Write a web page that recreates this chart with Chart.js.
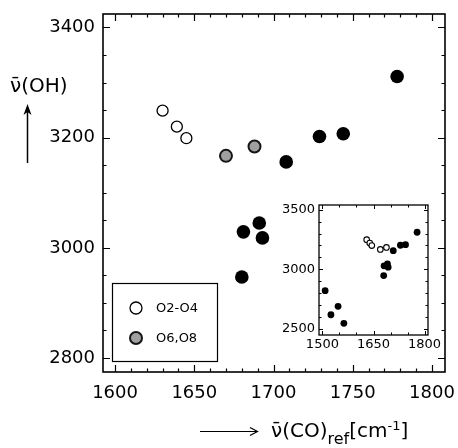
<!DOCTYPE html>
<html><head><meta charset="utf-8">
<script src="https://cdn.jsdelivr.net/npm/chart.js@4"></script>
<style>
html,body{margin:0;padding:0;background:#fff;}
#wrap{position:relative;width:458px;height:448px;overflow:hidden;font-family:"DejaVu Sans",sans-serif;background:#fff;}
#main{position:absolute;left:0;top:0;}
#inset{position:absolute;left:270px;top:195px;}
.lbl{position:absolute;color:#000;font-size:20px;white-space:nowrap;line-height:1;}
.lbl sub{font-size:16px;vertical-align:-7px;line-height:0;}
.lbl sup{font-size:13px;vertical-align:7px;line-height:0;}
</style></head><body>
<div id="wrap">
<canvas id="main" width="458" height="448"></canvas>
<canvas id="inset" width="174" height="160"></canvas>
<div class="lbl" id="ylab" style="left:10px;top:75px;">ν̄(OH)</div>
<div class="lbl" id="xlab" style="left:271px;top:420px;">ν̄(CO)<sub>ref</sub>[cm<sup>-1</sup>]</div>
</div>
<script>
// ---- data ----
const xTickLabels = [1600, 1650, 1700, 1750, 1800];
const yTickLabels = [2800, 3000, 3200, 3400];
const insetXTickLabels = [1500, 1650, 1800];
const insetYTickLabels = [2500, 3000, 3500];

const seriesNames = ['O2-O4', 'O6,O8'];
const openX = [1630, 1639, 1645];
const openY = [3249, 3220, 3199];
const grayX = [1670, 1688];
const grayY = [3167, 3184];
const filledX = [1680, 1681, 1691, 1693, 1708, 1729, 1744, 1778];
const filledY = [2947, 3029, 3045, 3018, 3156, 3202, 3207, 3311];
const insetExtraX = [1508, 1525, 1546, 1563];
const insetExtraY = [2820, 2618, 2689, 2546];

const pts = (xs, ys) => xs.map((x, i) => ({x: x, y: ys[i]}));

const frameTicks = {
  id: 'frameTicks',
  afterDatasetsDraw(chart, args, o) {
    const ctx = chart.ctx, a = chart.chartArea, x = chart.scales.x, y = chart.scales.y;
    ctx.save();
    ctx.strokeStyle = '#000';
    ctx.lineWidth = o.lw;
    ctx.strokeRect(a.left, a.top, a.right - a.left, a.bottom - a.top);
    ctx.lineWidth = o.tw;
    ctx.beginPath();
    for (let v = Math.ceil(x.min / o.xMinor) * o.xMinor; v <= x.max; v += o.xMinor) {
      const p = Math.round(x.getPixelForValue(v)) + 0.5;
      const len = (v % o.xMajor === 0) ? o.major : o.minor;
      ctx.moveTo(p, a.bottom); ctx.lineTo(p, a.bottom - len);
      ctx.moveTo(p, a.top); ctx.lineTo(p, a.top + len);
    }
    for (let v = Math.ceil(y.min / o.yMinor) * o.yMinor; v <= y.max; v += o.yMinor) {
      const p = Math.round(y.getPixelForValue(v)) + 0.5;
      const len = (v % o.yMajor === 0) ? o.major : o.minor;
      ctx.moveTo(a.left, p); ctx.lineTo(a.left + len, p);
      ctx.moveTo(a.right, p); ctx.lineTo(a.right - len, p);
    }
    ctx.stroke();
    ctx.restore();
  }
};

const decor = {
  id: 'decor',
  afterDraw(chart) {
    const ctx = chart.ctx;
    ctx.save();
    ctx.strokeStyle = '#000'; ctx.fillStyle = '#000'; ctx.lineWidth = 1.5;
    // up arrow
    ctx.beginPath(); ctx.moveTo(27.5, 163); ctx.lineTo(27.5, 110); ctx.stroke();
    ctx.beginPath(); ctx.moveTo(27.5, 104); ctx.lineTo(31.5, 115); ctx.lineTo(27.5, 112); ctx.lineTo(23.5, 115); ctx.closePath(); ctx.fill();
    // right arrow
    ctx.lineWidth = 1.2;
    ctx.beginPath(); ctx.moveTo(200, 431.5); ctx.lineTo(257, 431.5); ctx.stroke();
    ctx.beginPath(); ctx.moveTo(250, 427.5); ctx.lineTo(257.5, 431.5); ctx.lineTo(250, 435.5); ctx.stroke();
    // legend box
    ctx.lineWidth = 1.2;
    ctx.strokeRect(112.5, 283.5, 105, 78);
    const ds = chart.data.datasets;
    ctx.beginPath(); ctx.arc(136, 308, 6, 0, Math.PI * 2);
    ctx.fillStyle = ds[0].pointBackgroundColor; ctx.fill();
    ctx.lineWidth = ds[0].pointBorderWidth; ctx.strokeStyle = ds[0].pointBorderColor; ctx.stroke();
    ctx.beginPath(); ctx.arc(136, 338, 6, 0, Math.PI * 2);
    ctx.fillStyle = ds[1].pointBackgroundColor; ctx.fill();
    ctx.lineWidth = ds[1].pointBorderWidth; ctx.strokeStyle = ds[1].pointBorderColor; ctx.stroke();
    ctx.fillStyle = '#000';
    ctx.font = '13px "DejaVu Sans"';
    ctx.textBaseline = 'middle';
    ctx.fillText(ds[0].label, 156, 309);
    ctx.fillText(ds[1].label, 156, 339);
    ctx.restore();
  }
};

const fmt = v => String(v);

new Chart(document.getElementById('main'), {
  type: 'scatter',
  data: {datasets: [
    {label: seriesNames[0], data: pts(openX, openY), pointRadius: 5.5, pointBackgroundColor: '#fff', pointBorderColor: '#000', pointBorderWidth: 1.3},
    {label: seriesNames[1], data: pts(grayX, grayY), pointRadius: 6, pointBackgroundColor: '#a0a0a0', pointBorderColor: '#151515', pointBorderWidth: 2},
    {label: 'other', data: pts(filledX, filledY), pointRadius: 6.8, pointBackgroundColor: '#000', pointBorderColor: '#000', pointBorderWidth: 0}
  ]},
  options: {
    responsive: false, animation: false, devicePixelRatio: 1,
    layout: {padding: {left: 0, right: 13, top: 14, bottom: 0}},
    plugins: {
      legend: {display: false}, tooltip: {enabled: false},
      frameTicks: {lw: 1.6, tw: 1.2, major: 7, minor: 3.5, xMinor: 10, xMajor: 50, yMinor: 50, yMajor: 200}
    },
    scales: {
      x: {type: 'linear', min: 1592.4, max: 1808.2,
        grid: {display: false, drawTicks: false}, border: {display: false},
        ticks: {padding: 11, color: '#000', font: {family: 'DejaVu Sans', size: 18}, maxRotation: 0, autoSkip: false, callback: fmt},
        afterBuildTicks: s => { s.ticks = xTickLabels.map(v => ({value: v})); },
        afterFit: s => { s.height = 76; s.paddingLeft = 0; s.paddingRight = 0; }},
      y: {type: 'linear', min: 2774.6, max: 3424.5,
        grid: {display: false, drawTicks: false}, border: {display: false},
        ticks: {padding: 8, color: '#000', font: {family: 'DejaVu Sans', size: 18}, autoSkip: false, callback: fmt},
        afterBuildTicks: s => { s.ticks = yTickLabels.map(v => ({value: v})); },
        afterFit: s => { s.width = 103; s.paddingTop = 0; s.paddingBottom = 0; }}
    }
  },
  plugins: [frameTicks, decor]
});

new Chart(document.getElementById('inset'), {
  type: 'scatter',
  data: {datasets: [
    {label: 'open', data: pts(openX.concat(grayX), openY.concat(grayY)), pointRadius: 2.8, pointBackgroundColor: '#fff', pointBorderColor: '#000', pointBorderWidth: 1.1},
    {label: 'filled', data: pts(filledX.concat(insetExtraX), filledY.concat(insetExtraY)), pointRadius: 3.4, pointBackgroundColor: '#000', pointBorderColor: '#000', pointBorderWidth: 0}
  ]},
  options: {
    responsive: false, animation: false, devicePixelRatio: 1,
    layout: {padding: {left: 0, right: 16, top: 10, bottom: 0}},
    plugins: {
      legend: {display: false}, tooltip: {enabled: false},
      frameTicks: {lw: 1.3, tw: 1, major: 4, minor: 2.5, xMinor: 50, xMajor: 150, yMinor: 100, yMajor: 500}
    },
    scales: {
      x: {type: 'linear', min: 1490, max: 1810,
        grid: {display: false, drawTicks: false}, border: {display: false},
        ticks: {padding: 2, color: '#000', font: {family: 'DejaVu Sans', size: 13}, maxRotation: 0, autoSkip: false, callback: fmt},
        afterBuildTicks: s => { s.ticks = insetXTickLabels.map(v => ({value: v})); },
        afterFit: s => { s.height = 20; s.paddingLeft = 0; s.paddingRight = 0; }},
      y: {type: 'linear', min: 2448, max: 3540,
        grid: {display: false, drawTicks: false}, border: {display: false},
        ticks: {padding: 4, color: '#000', font: {family: 'DejaVu Sans', size: 13}, autoSkip: false, callback: fmt},
        afterBuildTicks: s => { s.ticks = insetYTickLabels.map(v => ({value: v})); },
        afterFit: s => { s.width = 49; s.paddingTop = 0; s.paddingBottom = 0; }}
    }
  },
  plugins: [frameTicks]
});
</script>
</body></html>
